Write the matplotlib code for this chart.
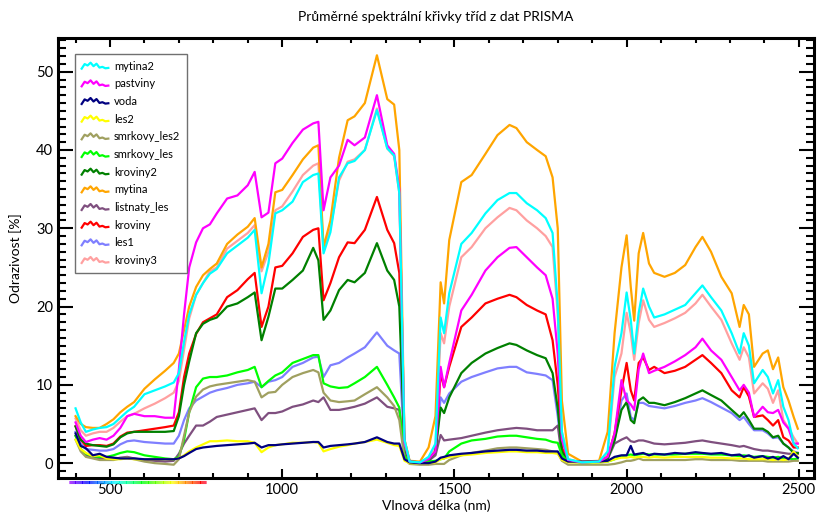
import numpy as np
import matplotlib
matplotlib.use("Agg")
import matplotlib.pyplot as plt
from matplotlib.lines import Line2D
from matplotlib.collections import LineCollection
from matplotlib.legend_handler import HandlerLine2D
from matplotlib.ticker import MultipleLocator

plt.rcParams['font.family'] = ['Lato', 'DejaVu Sans']

# wavelengths (nm) shared by all class curves
wl = [400, 415, 430, 450, 470, 490, 510, 530, 550, 570, 600, 630, 660, 685, 700, 715,
      730, 750, 770, 790, 810, 840, 870, 900, 920, 940, 960, 980, 1000, 1030, 1060, 1090,
      1105, 1120, 1140, 1165, 1190, 1210, 1240, 1275, 1305, 1325, 1340, 1355, 1370, 1400,
      1425, 1445, 1460, 1470, 1485, 1520, 1550, 1590, 1625, 1660, 1680, 1710, 1740, 1765,
      1785, 1800, 1812, 1830, 1870, 1920, 1945, 1965, 1985, 2000, 2012, 2022, 2035, 2048,
      2065, 2080, 2110, 2140, 2170, 2200, 2220, 2245, 2275, 2305, 2328, 2340, 2355, 2370,
      2395, 2410, 2425, 2440, 2455, 2470, 2485, 2497]

mytina2 = [7.0, 5.2, 4.0, 4.3, 4.5, 4.6, 5.0, 5.8, 6.6, 7.2, 8.8, 9.3, 9.8, 10.3, 11.5, 15.5,
           19.0, 21.5, 23.0, 24.2, 24.8, 26.8, 27.8, 28.8, 29.8, 21.7, 25.5, 31.9, 32.3, 33.4, 35.9, 36.8,
           37.0, 26.8, 29.5, 36.5, 38.3, 38.6, 40.0, 45.1, 40.2, 39.3, 34.5, 3.0, 0.2, 0.1,
           0.8, 2.5, 18.6, 16.6, 21.7, 28.0, 29.4, 31.9, 33.6, 34.5, 34.5, 33.2, 32.3, 31.3,
           29.4, 20.0, 4.0, 0.5, 0.1, 0.2, 1.5, 12.3, 16.6, 21.8, 18.3, 14.0, 19.2, 22.3,
           20.0, 18.6, 19.0, 19.6, 20.2, 21.7, 22.7, 21.2, 19.5, 16.6, 14.0, 16.6, 15.0, 10.2,
           11.9, 11.0, 8.9, 10.6, 7.2, 5.5, 2.5, 1.9]
pastviny = [5.2, 3.5, 2.7, 3.0, 3.2, 3.0, 3.5, 4.5, 6.0, 6.3, 6.0, 6.0, 5.8, 5.8, 12.0, 19.0,
            25.0, 28.2, 30.0, 30.5, 31.9, 33.8, 34.2, 35.5, 37.2, 31.4, 32.0, 38.3, 38.9, 40.9, 42.6, 43.4,
            43.6, 32.3, 36.5, 38.0, 41.3, 40.6, 41.6, 47.0, 40.6, 39.5, 35.0, 2.5, 0.2, 0.1,
            0.5, 1.5, 12.3, 9.7, 12.8, 19.5, 21.5, 24.6, 26.3, 27.5, 27.6, 26.3, 25.0, 24.0,
            21.0, 14.0, 3.0, 0.4, 0.1, 0.2, 0.8, 3.8, 10.6, 8.0, 7.5, 6.8, 12.0, 14.0,
            11.5, 11.8, 12.3, 13.0, 13.8, 14.8, 15.9, 14.4, 13.2, 11.0, 9.3, 10.0, 9.0, 5.9,
            7.2, 6.5, 6.4, 6.8, 5.2, 4.4, 2.5, 2.5]
voda = [3.8, 2.2, 1.9, 1.0, 1.2, 0.8, 0.7, 0.6, 0.6, 0.6, 0.5, 0.5, 0.5, 0.5, 0.6, 0.9,
        1.3, 1.8, 2.0, 2.1, 2.2, 2.3, 2.4, 2.5, 2.6, 2.0, 2.3, 2.3, 2.4, 2.5, 2.6, 2.7,
        2.7, 2.0, 2.2, 2.3, 2.4, 2.5, 2.7, 3.3, 2.7, 2.5, 2.5, 0.5, 0.1, 0.0,
        0.0, 0.2, 0.7, 0.8, 1.0, 1.2, 1.3, 1.5, 1.6, 1.7, 1.7, 1.6, 1.6, 1.5,
        1.5, 1.5, 0.6, 0.2, 0.2, 0.2, 0.3, 0.8, 1.0, 1.0, 2.2, 1.1, 1.2, 1.3,
        1.0, 1.2, 1.1, 1.3, 1.2, 1.4, 1.3, 1.2, 1.3, 1.0, 1.1, 0.8, 1.0, 0.7,
        0.9, 0.6, 0.8, 0.5, 0.9, 0.5, 1.2, 0.7]
les2 = [3.0, 1.8, 1.3, 0.9, 1.0, 0.6, 0.5, 0.5, 0.6, 0.5, 0.5, 0.5, 0.5, 0.5, 0.6, 1.0,
        1.5, 2.0, 2.4, 2.8, 2.8, 2.9, 2.8, 2.8, 2.6, 1.4, 2.0, 2.3, 2.4, 2.6, 2.6, 2.7,
        2.6, 1.5, 1.8, 2.1, 2.3, 2.5, 2.7, 3.0, 2.6, 2.3, 2.2, 0.3, 0.0, 0.0,
        0.0, 0.1, 0.5, 0.6, 0.8, 1.0, 1.1, 1.3, 1.4, 1.5, 1.5, 1.4, 1.4, 1.3,
        1.3, 1.2, 0.4, 0.1, 0.1, 0.1, 0.2, 0.5, 0.7, 0.7, 0.8, 0.7, 0.8, 0.8,
        0.7, 0.8, 0.7, 0.8, 0.8, 0.8, 0.8, 0.7, 0.7, 0.6, 0.6, 0.6, 0.5, 0.5,
        0.5, 0.5, 0.4, 0.5, 0.4, 0.5, 1.5, 0.8]
smrkovy_les2 = [3.0, 1.5, 0.8, 0.6, 0.4, 0.4, 0.4, 0.6, 0.7, 0.5, 0.2, 0.0, -0.1, -0.2, 0.5, 3.5,
                6.5, 8.5, 9.4, 9.8, 10.0, 10.2, 10.4, 10.6, 10.4, 8.4, 9.0, 9.1, 10.0, 11.0, 11.5, 11.9,
                11.6, 9.0, 8.0, 7.8, 7.9, 8.0, 8.8, 9.7, 8.4, 7.3, 5.5, 0.5, -0.1, -0.2,
                -0.2, -0.1, -0.1, -0.1, 0.4, 1.0, 1.3, 1.6, 1.9, 2.0, 2.0, 1.9, 1.8, 1.7,
                1.5, 1.3, 0.3, -0.2, -0.2, -0.2, -0.2, -0.1, 0.1, 0.3, 0.3, 0.4, 0.6, 0.4,
                0.4, 0.4, 0.4, 0.4, 0.4, 0.5, 0.5, 0.4, 0.4, 0.4, 0.3, 0.3, 0.3, 0.3,
                0.3, 0.2, 0.2, 0.2, 0.2, 0.2, 0.3, 0.3]
smrkovy_les = [3.5, 1.8, 1.2, 0.9, 0.8, 0.8, 1.0, 1.3, 1.5, 1.4, 1.0, 0.8, 0.6, 0.5, 0.8, 3.0,
               6.5, 9.7, 10.8, 11.0, 11.0, 11.2, 11.6, 11.9, 12.3, 9.7, 10.5, 11.2, 11.6, 12.8, 13.3, 13.8,
               13.8, 10.2, 9.8, 9.6, 9.7, 10.2, 11.0, 12.3, 10.0, 8.4, 7.1, 1.0, 0.1, 0.1,
               0.2, 0.3, 0.5, 0.6, 1.5, 2.5, 2.9, 3.1, 3.4, 3.5, 3.5, 3.3, 3.1, 3.0,
               2.7, 2.6, 1.0, 0.2, 0.1, 0.1, 0.2, 0.5, 0.9, 1.0, 1.1, 1.0, 1.1, 1.2,
               1.1, 1.1, 1.1, 1.1, 1.2, 1.2, 1.2, 1.1, 1.1, 1.0, 0.9, 1.0, 0.9, 0.8,
               0.9, 0.8, 0.7, 0.8, 0.6, 0.6, 0.5, 0.6]
kroviny2 = [4.7, 3.0, 2.5, 2.3, 2.2, 2.1, 2.4, 3.3, 3.8, 4.0, 4.0, 4.0, 4.0, 4.1, 6.0, 10.0,
            13.0, 16.6, 17.8, 18.3, 18.6, 20.0, 20.4, 21.2, 21.8, 15.7, 18.7, 22.3, 22.3, 23.4, 24.6, 27.5,
            25.9, 18.3, 19.5, 22.1, 23.4, 23.1, 24.3, 28.1, 24.6, 23.4, 20.0, 2.0, 0.2, 0.1,
            0.4, 1.5, 7.1, 6.4, 8.4, 11.5, 12.8, 14.0, 14.7, 15.3, 15.1, 14.4, 13.8, 13.4,
            11.5, 7.0, 1.5, 0.3, 0.1, 0.2, 0.6, 2.9, 6.8, 7.8, 5.5, 5.1, 8.0, 8.4,
            7.7, 7.7, 7.4, 7.8, 8.3, 8.9, 9.3, 8.7, 8.0, 6.8, 5.9, 6.5, 5.5, 4.4,
            4.4, 4.0, 3.3, 3.5, 2.5, 2.0, 1.3, 1.3]
mytina = [6.0, 5.0, 4.6, 4.5, 4.5, 5.0, 5.6, 6.5, 7.2, 7.8, 9.5, 10.7, 11.8, 12.8, 14.0, 17.0,
          20.0, 22.5, 24.0, 24.8, 25.5, 28.0, 29.2, 30.2, 31.3, 25.0, 28.0, 34.6, 34.9, 36.8, 38.8, 40.3,
          40.6, 27.6, 31.0, 39.0, 43.8, 44.3, 46.0, 52.1, 46.5, 45.8, 40.0, 3.0, 0.3, 0.2,
          2.0, 6.0, 23.1, 20.4, 28.5, 35.9, 36.8, 39.5, 41.9, 43.2, 42.8, 41.0, 40.0, 39.2,
          36.5, 30.0, 8.0, 1.2, 0.2, 0.3, 4.0, 16.6, 25.0, 29.1, 22.5, 18.2, 26.8, 29.4,
          25.5, 24.3, 23.8, 24.3, 25.3, 27.6, 28.9, 27.0, 23.8, 21.7, 17.4, 20.2, 19.0, 12.3,
          14.0, 14.4, 12.0, 13.5, 9.7, 8.0, 5.9, 4.4]
listnaty_les = [3.5, 1.8, 1.0, 0.8, 0.6, 0.5, 0.5, 0.7, 0.8, 0.6, 0.4, 0.3, 0.2, 0.3, 1.2, 2.5,
                3.5, 4.8, 4.8, 5.3, 5.9, 6.2, 6.5, 6.8, 7.0, 5.5, 6.4, 6.4, 6.6, 7.2, 7.5, 8.0,
                7.8, 8.4, 6.8, 6.8, 7.0, 7.2, 7.6, 8.4, 7.2, 7.0, 6.8, 1.0, 0.1, 0.1,
                0.3, 1.0, 3.6, 2.9, 3.0, 3.2, 3.5, 3.9, 4.2, 4.4, 4.5, 4.4, 4.2, 4.2,
                4.2, 4.8, 0.8, 0.2, 0.1, 0.2, 0.5, 2.5, 3.0, 3.3, 2.8, 2.7, 2.9, 2.9,
                2.7, 2.5, 2.4, 2.5, 2.6, 2.8, 2.9, 2.7, 2.5, 2.3, 2.1, 2.2, 2.0, 1.8,
                1.6, 1.6, 1.5, 1.4, 1.3, 1.2, 1.2, 1.2]
kroviny = [4.7, 3.0, 2.2, 2.3, 2.3, 2.2, 2.5, 3.4, 3.9, 4.0, 4.2, 4.4, 4.6, 4.8, 6.5, 11.0,
           14.0, 16.5, 18.0, 18.5, 19.0, 21.2, 22.1, 23.5, 24.3, 17.4, 20.0, 25.0, 25.2, 26.8, 28.9, 29.8,
           30.0, 20.8, 23.0, 26.3, 28.2, 28.1, 29.8, 34.0, 29.8, 28.1, 24.3, 2.0, 0.2, 0.1,
           0.4, 1.5, 11.5, 9.7, 12.3, 17.4, 18.6, 20.4, 21.0, 21.5, 21.2, 20.2, 19.5, 19.0,
           15.7, 10.0, 2.0, 0.3, 0.1, 0.2, 0.8, 3.8, 9.3, 12.8, 9.3, 8.0, 12.8, 13.5,
           11.9, 12.3, 11.5, 11.8, 12.3, 13.2, 13.8, 12.8, 11.5, 9.3, 8.4, 9.7, 8.5, 5.9,
           6.1, 5.5, 4.8, 5.5, 3.3, 2.9, 2.0, 2.0]
les1 = [4.0, 2.5, 1.8, 1.7, 1.6, 1.6, 1.8, 2.4, 2.8, 2.9, 2.7, 2.6, 2.5, 2.5, 3.5, 5.5,
        7.0, 8.0, 8.5, 9.0, 9.3, 9.6, 10.0, 10.2, 10.4, 9.7, 10.4, 10.6, 11.0, 12.3, 12.8, 13.5,
        13.6, 11.0, 12.5, 12.8, 13.5, 14.0, 14.8, 16.7, 15.0, 14.4, 14.0, 1.5, 0.2, 0.1,
        0.3, 1.2, 8.4, 7.7, 8.9, 10.4, 11.0, 11.6, 12.1, 12.3, 12.3, 11.6, 11.4, 11.2,
        10.6, 6.0, 1.2, 0.2, 0.1, 0.2, 0.6, 2.9, 8.0, 8.9, 5.9, 5.5, 7.7, 7.7,
        7.3, 7.2, 7.0, 7.3, 7.7, 8.0, 8.3, 7.8, 7.1, 6.4, 5.5, 5.9, 5.0, 4.2,
        4.2, 3.8, 3.2, 3.3, 2.5, 2.0, 1.5, 1.3]
kroviny3 = [5.7, 4.2, 3.5, 3.8, 4.0, 4.0, 4.5, 5.3, 6.0, 6.3, 7.0, 7.6, 8.3, 9.0, 10.5, 14.5,
            18.5, 21.5, 23.0, 24.5, 25.0, 27.4, 28.4, 29.4, 30.4, 24.5, 27.0, 32.3, 32.8, 34.7, 36.8, 38.0,
            38.3, 27.2, 30.0, 36.1, 38.5, 38.8, 40.0, 45.3, 40.2, 39.2, 34.5, 3.0, 0.2, 0.1,
            0.6, 2.0, 16.6, 15.3, 20.0, 26.3, 27.6, 30.0, 31.4, 32.6, 32.3, 31.0, 30.0, 29.0,
            27.6, 19.0, 4.0, 0.5, 0.1, 0.2, 1.2, 11.0, 14.0, 19.2, 16.6, 13.2, 17.9, 20.8,
            18.3, 17.4, 17.9, 18.5, 19.2, 20.4, 21.5, 20.0, 18.3, 15.3, 13.2, 14.8, 13.5, 8.9,
            10.2, 9.5, 7.7, 9.3, 5.5, 4.5, 3.3, 2.5]

names = ['mytina2', 'pastviny', 'voda', 'les2', 'smrkovy_les2', 'smrkovy_les',
         'kroviny2', 'mytina', 'listnaty_les', 'kroviny', 'les1', 'kroviny3']
series = [mytina2, pastviny, voda, les2, smrkovy_les2, smrkovy_les,
          kroviny2, mytina, listnaty_les, kroviny, les1, kroviny3]
colors = ['#00ffff', '#ff00ff', '#000080', '#ffff00', '#a0a060', '#00ff00',
          '#008000', '#ffa500', '#7f4f7f', '#ff0000', '#7f7fff', '#ffa0a0']

# visible range marked under the x axis
vis_lo, vis_hi = 380, 780


class WavyHandler(HandlerLine2D):
    # small spectrum-like squiggle instead of a straight legend line
    def create_artists(self, legend, orig_handle, xdescent, ydescent, width, height, fontsize, trans):
        shape = np.array([0.1, 0.75, 0.55, 0.95, 0.45, 0.8, 0.25, 0.35, 0.15, 0.2])
        xs = np.linspace(0, width, len(shape)) - xdescent
        ys = (shape - 0.5) * height * 0.9 + height / 2 - ydescent
        line = Line2D(xs, ys, color=orig_handle.get_color(), lw=orig_handle.get_linewidth())
        line.set_transform(trans)
        return [line]


fig = plt.figure(figsize=(8.18, 5.14), dpi=100)
ax = fig.add_axes([0.0709, 0.0700, 0.9242, 0.8560])

handles = {}
for name, vals, c in reversed(list(zip(names, series, colors))):
    handles[name], = ax.plot(wl, vals, color=c, lw=1.6, label=name)

ax.set_xlim(349, 2544)
ax.set_ylim(-1.9, 54.3)
ax.xaxis.set_major_locator(MultipleLocator(500))
ax.xaxis.set_minor_locator(MultipleLocator(100))
ax.yaxis.set_major_locator(MultipleLocator(10))
ax.yaxis.set_minor_locator(MultipleLocator(1))
ax.tick_params(which='both', direction='in', top=True, right=True, width=1.5, labelsize=10.5)
ax.tick_params(axis='x', which='major', length=6.5)
ax.tick_params(axis='x', which='minor', length=3.6)
ax.tick_params(axis='y', which='major', length=10.5)
ax.tick_params(axis='y', which='minor', length=5.5)
for s in ax.spines.values():
    s.set_linewidth(2.2)

# rainbow strip for the visible part of the spectrum
vx = np.linspace(vis_lo, vis_hi, 120)
segs = [[(vx[i], -0.009), (vx[i + 1], -0.009)] for i in range(len(vx) - 1)]
lc = LineCollection(segs, colors=plt.cm.gist_rainbow_r(np.linspace(0.12, 1.0, len(segs))),
                    linewidths=2.2, transform=ax.get_xaxis_transform(), clip_on=False)
ax.add_collection(lc)

ax.set_title('Průměrné spektrální křivky tříd z dat PRISMA', fontsize=10, pad=12)
ax.set_xlabel('Vlnová délka (nm)', fontsize=10)
ax.set_ylabel('Odrazivost [%]', fontsize=10)
ax.xaxis.set_label_coords(0.5, -0.048)
ax.yaxis.set_label_coords(-0.048, 0.5)

leg = ax.legend([handles[n] for n in names], names, loc='upper left',
                bbox_to_anchor=(0.0225, 0.9636), borderaxespad=0, fontsize=8, fancybox=False,
                edgecolor='#707070', framealpha=1, handlelength=2.4, labelspacing=0.6,
                handletextpad=0.5, borderpad=0.6,
                handler_map={Line2D: WavyHandler()})
leg.get_frame().set_linewidth(1.0)

plt.savefig('out.png', dpi=100)
